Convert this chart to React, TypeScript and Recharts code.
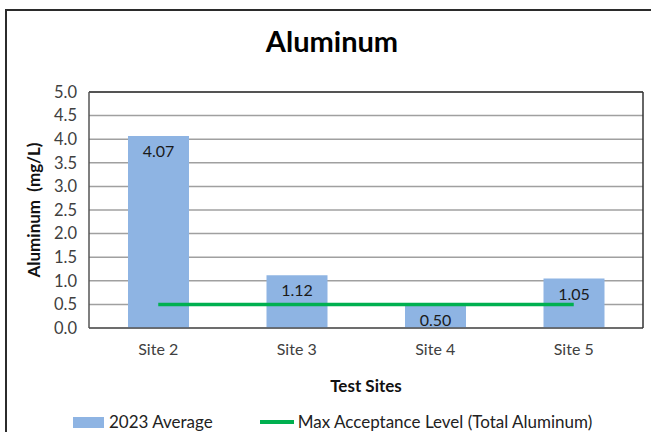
import React from 'react';
import {
  ComposedChart,
  Bar,
  Line,
  XAxis,
  YAxis,
  CartesianGrid,
  ReferenceLine,
  LabelList,
} from 'recharts';

// values
const sites = ['Site 2', 'Site 3', 'Site 4', 'Site 5'];
const average2023 = [4.07, 1.12, 0.5, 1.05];
const maxAcceptance = [0.5, 0.5, 0.5, 0.5];
const yTicks = [0, 0.5, 1, 1.5, 2, 2.5, 3, 3.5, 4, 4.5, 5];
const seriesNames = ['2023 Average', 'Max Acceptance Level (Total Aluminum)'];

const data = sites.map((site, i) => ({
  site,
  avg: average2023[i],
  max: maxAcceptance[i],
}));

const FONT = 'Lato, "Open Sans", sans-serif';
const BAR_COLOR = '#8EB4E3';
const LINE_COLOR = '#00B050';
const TEXT = '#404040';

const YLabel = ({ viewBox }: any) => {
  const cx = viewBox.x + 33;
  const cy = viewBox.y + viewBox.height / 2;
  return (
    <text
      x={cx}
      y={cy}
      transform={`rotate(-90 ${cx} ${cy})`}
      textAnchor="middle"
      dominantBaseline="central"
      fontFamily={FONT}
      fontSize={17}
      fontWeight={700}
      fill="#111"
    >
      Aluminum&nbsp;&nbsp;(mg/L)
    </text>
  );
};

const XLabel = ({ viewBox }: any) => (
  <text
    x={viewBox.x + viewBox.width / 2}
    y={viewBox.y + 57}
    textAnchor="middle"
    dominantBaseline="central"
    fontFamily={FONT}
    fontSize={17}
    fontWeight={700}
    fill="#111"
  >
    Test Sites
  </text>
);

export default function App() {
  return (
    <div
      style={{
        position: 'fixed',
        left: 0,
        top: 0,
        width: 651,
        height: 432,
        overflow: 'hidden',
        background: '#fff',
        fontFamily: FONT,
      }}
    >
      {/* outer chart frame, right and bottom edges fall outside the picture */}
      <div
        style={{
          position: 'absolute',
          left: 5,
          top: 9,
          width: 700,
          height: 500,
          border: '2px solid #2b2b2b',
        }}
      />
      <div
        style={{
          position: 'absolute',
          left: 0,
          top: 23,
          width: 664,
          textAlign: 'center',
          fontSize: 29,
          fontWeight: 700,
          color: '#000',
        }}
      >
        Aluminum
      </div>
      <div style={{ position: 'absolute', left: 0, top: 0 }}>
        <ComposedChart
          width={651}
          height={432}
          data={data}
          margin={{ top: 92, right: 0, left: 0, bottom: 44 }}
        >
          <CartesianGrid vertical={false} stroke="#a0a0a0" strokeWidth={1.5} />
          <XAxis
            dataKey="site"
            height={60}
            tickLine={false}
            tickSize={0}
            tickMargin={16}
            axisLine={{ stroke: '#555', strokeWidth: 1.5 }}
            tick={{ fill: TEXT, fontSize: 16, fontFamily: FONT }}
            label={<XLabel />}
          />
          <YAxis
            width={89}
            domain={[0, 5]}
            ticks={yTicks}
            interval={0}
            tickFormatter={(v: number) => v.toFixed(1)}
            tickLine={false}
            tickSize={0}
            tickMargin={12}
            axisLine={{ stroke: '#555', strokeWidth: 1.5 }}
            tick={{ fill: TEXT, fontSize: 16.5, fontFamily: FONT }}
            label={<YLabel />}
          />
          <YAxis
            yAxisId="r"
            orientation="right"
            width={8}
            domain={[0, 5]}
            tick={false}
            tickLine={false}
            axisLine={{ stroke: '#333', strokeWidth: 1.5 }}
          />
          <ReferenceLine y={5} stroke="#333" strokeWidth={1.5} />
          <Bar dataKey="avg" fill={BAR_COLOR} barSize={61} isAnimationActive={false}>
            <LabelList
              dataKey="avg"
              position="insideTop"
              offset={10}
              formatter={(v: any) => Number(v).toFixed(2)}
              style={{ fill: '#1a1a1a', fontSize: 16, fontFamily: FONT }}
            />
          </Bar>
          <Line
            dataKey="max"
            stroke={LINE_COLOR}
            strokeWidth={3.5}
            dot={false}
            activeDot={false}
            isAnimationActive={false}
          />
        </ComposedChart>
      </div>
      {/* legend */}
      <div
        style={{
          position: 'absolute',
          left: 73,
          top: 411,
          display: 'flex',
          alignItems: 'center',
          fontSize: 17,
          lineHeight: '22px',
          color: '#222',
          whiteSpace: 'nowrap',
        }}
      >
        <span style={{ display: 'inline-block', width: 31, height: 11, background: BAR_COLOR, marginRight: 5 }} />
        <span>{seriesNames[0]}</span>
        <span
          style={{ display: 'inline-block', width: 34, height: 4, background: LINE_COLOR, marginLeft: 47, marginRight: 4 }}
        />
        <span>{seriesNames[1]}</span>
      </div>
    </div>
  );
}
